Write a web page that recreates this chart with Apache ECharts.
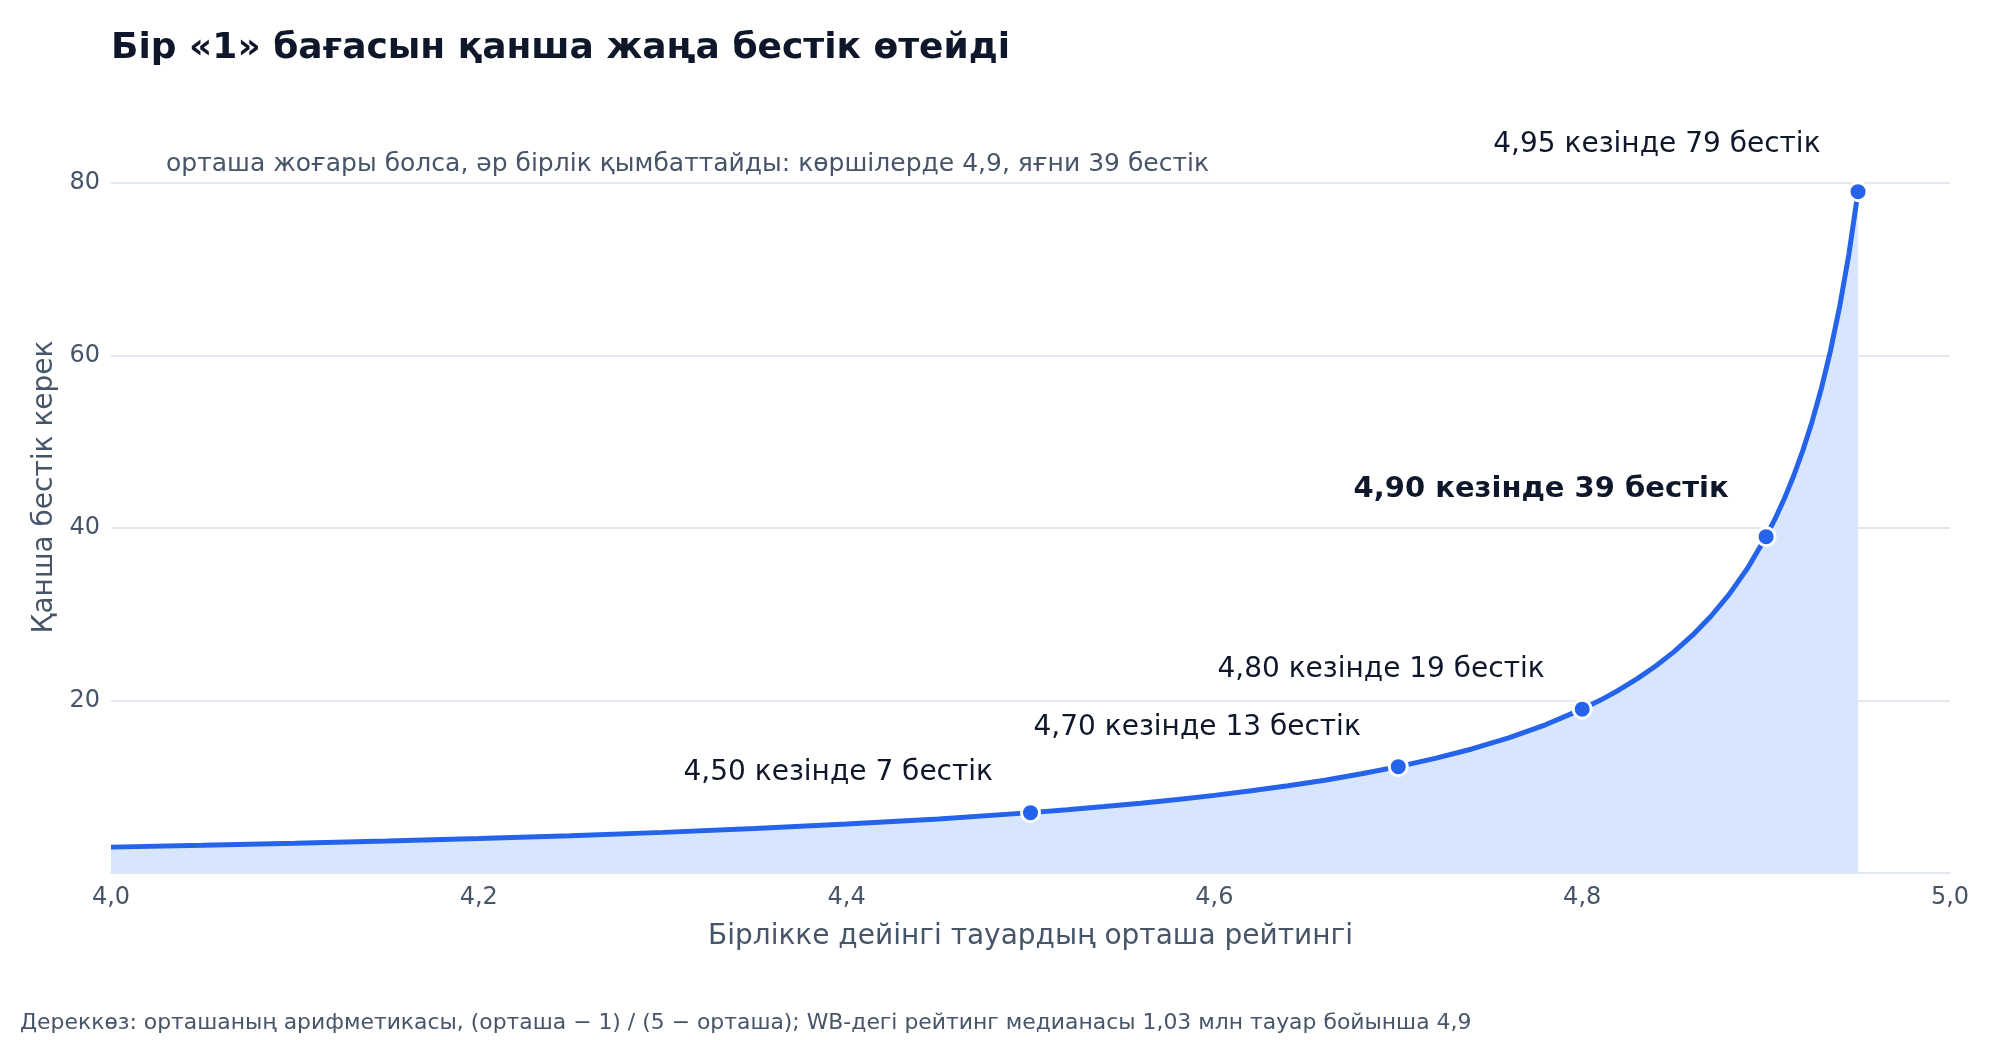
<!DOCTYPE html>
<html>
<head>
<meta charset="utf-8">
<script src="https://cdn.jsdelivr.net/npm/echarts@6/dist/echarts.min.js"></script>
<style>
html,body{margin:0;padding:0;background:#fff;}
#chart{width:2000px;height:1040px;}
</style>
</head>
<body>
<div id="chart"></div>
<script>
// ---- data ----
const ratingX = [4.00,4.05,4.10,4.15,4.20,4.25,4.30,4.35,4.40,4.45,4.50,4.52,4.54,4.56,4.58,4.60,4.62,4.64,4.66,4.68,4.70,4.72,4.74,4.76,4.78,4.80,4.81,4.82,4.83,4.84,4.85,4.86,4.87,4.88,4.89,4.90,4.905,4.91,4.915,4.92,4.925,4.93,4.935,4.94,4.945,4.95];
const fivesNeeded = [3.00,3.21,3.44,3.71,4.00,4.33,4.71,5.15,5.67,6.27,7.00,7.33,7.70,8.09,8.52,9.00,9.53,10.11,10.76,11.50,12.33,13.29,14.38,15.67,17.18,19.00,20.05,21.22,22.53,24.00,25.67,27.57,29.77,32.33,35.36,39.00,41.11,43.44,46.06,49.00,52.33,56.14,60.54,65.67,71.73,79.00];
const markX = [4.50,4.70,4.80,4.90,4.95];
const markY = [7.00,12.33,19.00,39.00,79.00];
const markText = ["4,50 кезінде 7 бестік","4,70 кезінде 13 бестік","4,80 кезінде 19 бестік","4,90 кезінде 39 бестік","4,95 кезінде 79 бестік"];
const highlightIndex = 3;
const yTicks = [20,40,60,80];
const titleText = "Бір «1» бағасын қанша жаңа бестік өтейді";
const subtitleText = "орташа жоғары болса, әр бірлік қымбаттайды: көршілерде 4,9, яғни 39 бестік";
const xName = "Бірлікке дейінгі тауардың орташа рейтингі";
const yName = "Қанша бестік керек";
const footerText = "Дереккөз: орташаның арифметикасы, (орташа − 1) / (5 − орташа); WB-дегі рейтинг медианасы 1,03 млн тауар бойынша 4,9";

// ---- styles ----
const FONT = "DejaVu Sans";
const SLATE = "#475569";
const DARK = "#0f172a";
const BLUE = "#2563eb";
const labelLift = [38, 37, 38, 46, 45];
const SYM = 18;

const chart = echarts.init(document.getElementById('chart'), null, {renderer:'canvas'});

const lineData = ratingX.map((x,i)=>[x, fivesNeeded[i]]);
const pointData = markX.map((x,i)=>({
  value:[x, markY[i]],
  label:{
    show:true,
    formatter: markText[i],
    position:[SYM/2-36, SYM/2-labelLift[i]],
    align:'right',
    verticalAlign:'middle',
    fontFamily:FONT,
    fontSize: i===highlightIndex ? 29 : 28,
    fontWeight: i===highlightIndex ? 'bold' : 'normal',
    color:DARK
  }
}));

chart.setOption({
  animation:false,
  backgroundColor:'#ffffff',
  textStyle:{fontFamily:FONT},
  title:[
    {text:titleText, left:111, top:31, padding:0, textStyle:{fontFamily:FONT, fontSize:36, fontWeight:'bold', color:DARK}},
    {text:subtitleText, left:166, top:152, padding:0, textStyle:{fontFamily:FONT, fontSize:25, fontWeight:'normal', color:SLATE}},
    {text:footerText, left:20, top:1012, padding:0, textStyle:{fontFamily:FONT, fontSize:21.9, fontWeight:'normal', color:SLATE}}
  ],
  grid:{left:111, right:50, top:183, bottom:167, containLabel:false},
  xAxis:{
    type:'value', min:4, max:5, interval:0.2,
    name:xName, nameLocation:'middle', nameGap:50,
    nameTextStyle:{fontFamily:FONT, fontSize:28, color:SLATE},
    axisLine:{show:true, lineStyle:{color:'#e2e8f0', width:2}},
    axisTick:{show:false},
    splitLine:{show:false},
    axisLabel:{fontFamily:FONT, fontSize:24, color:SLATE, margin:13,
      formatter:v=>v.toFixed(1).replace('.',',')}
  },
  yAxis:{
    type:'value', min:0, max:80, interval:20,
    name:yName, nameLocation:'middle', nameGap:52,
    nameTextStyle:{fontFamily:FONT, fontSize:28, color:SLATE, padding:[0,0,0,82]},
    axisLine:{show:false}, axisTick:{show:false},
    splitLine:{show:true, lineStyle:{color:'#e2e8f0', width:2}},
    axisLabel:{fontFamily:FONT, fontSize:24, color:SLATE, margin:11, showMinLabel:false,
      formatter:v=> yTicks.indexOf(v)>=0 ? String(v) : ''}
  },
  series:[
    {
      type:'line', data:lineData, showSymbol:false, smooth:false,
      lineStyle:{color:BLUE, width:5},
      areaStyle:{color:'#d7e6fd', opacity:1},
      z:2
    },
    {
      type:'scatter', data:pointData, symbol:'circle', symbolSize:SYM,
      itemStyle:{color:BLUE, borderColor:'#ffffff', borderWidth:3, opacity:1},
      z:5
    }
  ]
});
</script>
</body>
</html>
